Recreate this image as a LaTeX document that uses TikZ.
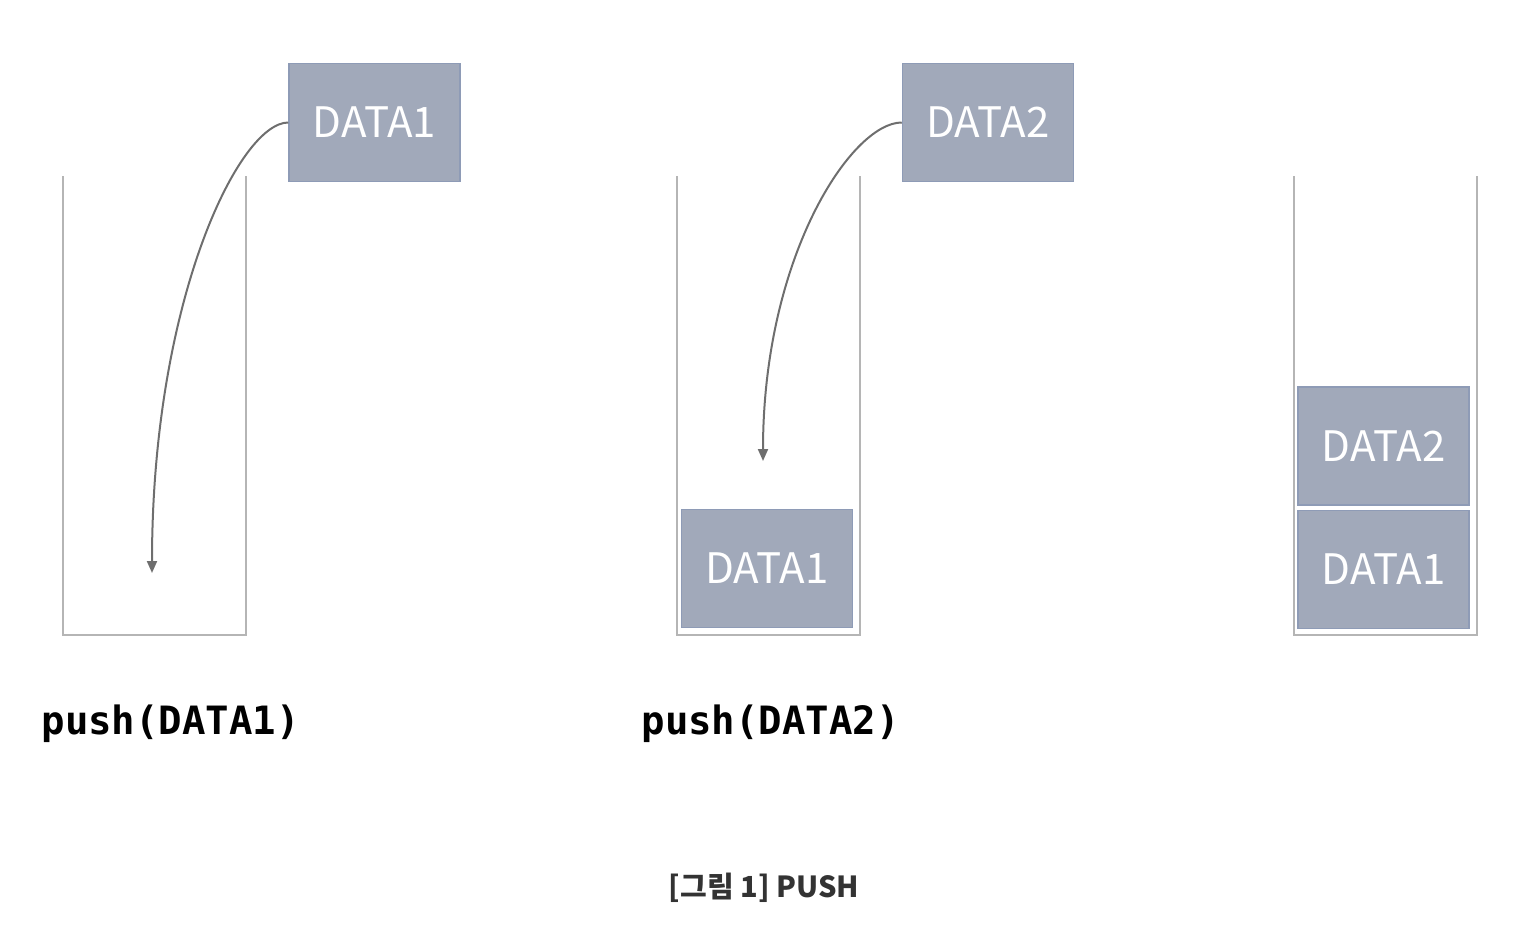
\documentclass[tikz,border=0pt]{standalone}
\usepackage{fontspec}
\setmainfont{Noto Sans CJK KR}
\newfontfamily\boxfont{Noto Sans CJK KR}
\newfontfamily\codefont{DejaVu Sans Mono}
\usetikzlibrary{arrows.meta,positioning}
\definecolor{boxfill}{HTML}{A1A9BA}
\definecolor{boxline}{HTML}{8E9BB6}
\definecolor{wallgray}{HTML}{B5B5B5}
\definecolor{arrowgray}{HTML}{6E6E6E}
\definecolor{captiongray}{HTML}{333333}

\begin{document}
\begin{tikzpicture}[x=1pt,y=-1pt,>={Triangle[width=10pt,length=12pt]},
  databox/.style={draw=boxline,line width=1.5pt,fill=boxfill,text=white,
    minimum width=171pt,minimum height=118pt,inner sep=0pt,
    font=\boxfont\fontsize{42}{42}\selectfont},
  wall/.style={draw=wallgray,line width=2.5pt},
  pusharrow/.style={->,draw=arrowgray,line width=2pt},
  pushlabel/.style={anchor=base west,font=\codefont\bfseries\fontsize{39}{39}\selectfont}]
  \useasboundingbox (0,0) rectangle (1516,934);
  \foreach \x in {63,677,1294}
    \draw[wall] (\x,176) |- (\x+183,635) -- (\x+183,176);

  \node[databox] (in1)  at (374.5,122.5)  {DATA1};
  \node[databox] (in2)  at (988,122.5)    {DATA2};
  \node[databox] (s2d1) at (767,568.5)    {DATA1};
  \node[databox] (s3d1) at (1383.5,569.5) {DATA1};
  \node[databox] (s3d2) [above=4pt of s3d1] {DATA2};

  \coordinate (tip1) at (152,573);
  \coordinate (tip2) at (763,461);
  \draw[pusharrow] (in1.west) .. controls +(-49,0) and +(0,-273) .. (tip1);
  \draw[pusharrow] (in2.west) .. controls +(-50,0) and +(0,-205) .. (tip2);

  \node[pushlabel] (lab1) at (38,734)  {push(DATA1)};
  \node[pushlabel] (lab2) at (638,734) {push(DATA2)};
  \node[anchor=base,text=captiongray,font=\bfseries\fontsize{29}{29}\selectfont]
    (caption) at (764,897) {[그림 1] PUSH};
\end{tikzpicture}
\end{document}
